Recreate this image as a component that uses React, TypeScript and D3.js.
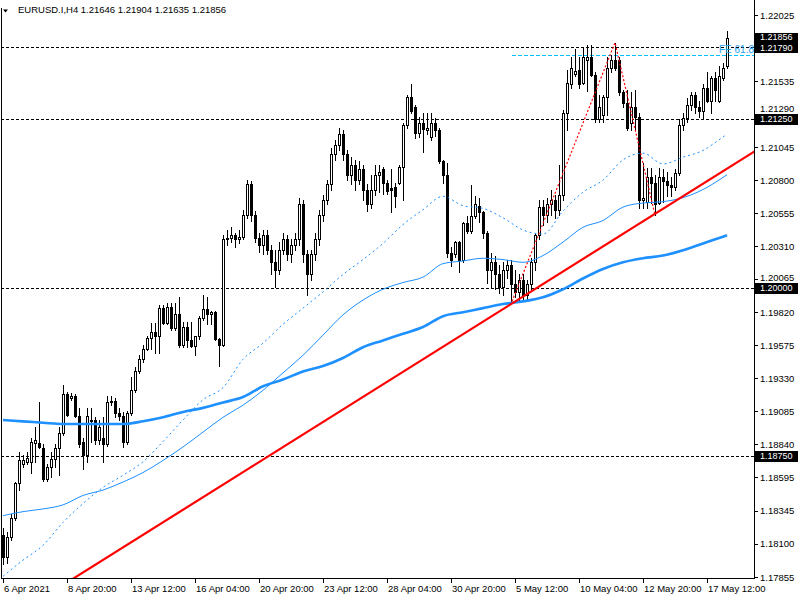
import React from 'react';
import * as d3 from 'd3';

// EURUSD H4 candles, oldest first (index 0 = 6 Apr 2021)
const opens = [
  1.1817, 1.1800, 1.1815, 1.1829, 1.1855, 1.1869, 1.1871, 1.1871, 1.1885, 1.1885,
  1.1881, 1.1858, 1.1867, 1.1873, 1.1881, 1.1892, 1.1921, 1.1918, 1.1920, 1.1905,
  1.1886, 1.1876, 1.1901, 1.1902, 1.1887, 1.1889, 1.1884, 1.1915, 1.1916, 1.1907,
  1.1905, 1.1886, 1.1907, 1.1924, 1.1938, 1.1947, 1.1955, 1.1963, 1.1967, 1.1964,
  1.1985, 1.1974, 1.1986, 1.1970, 1.1981, 1.1958, 1.1971, 1.1961, 1.1957, 1.1964,
  1.1978, 1.1984, 1.1981, 1.1982, 1.1962, 1.1958, 1.2036, 1.2037, 1.2039, 1.2036,
  1.2038, 1.2054, 1.2077, 1.2054, 1.2037, 1.2032, 1.2039, 1.2028, 1.2019, 1.2013,
  1.2028, 1.2036, 1.2025, 1.2032, 1.2036, 1.2062, 1.2025, 1.2010, 1.2025, 1.2036,
  1.2054, 1.2065, 1.2077, 1.2099, 1.2106, 1.2114, 1.2099, 1.2084, 1.2091, 1.2080,
  1.2088, 1.2073, 1.2062, 1.2073, 1.2084, 1.2088, 1.2078, 1.2074, 1.2075, 1.2078,
  1.2090, 1.2121, 1.2142, 1.2134, 1.2115, 1.2122, 1.2117, 1.2112, 1.2122, 1.2117,
  1.2094, 1.2084, 1.2026, 1.2025, 1.2034, 1.2021, 1.2048, 1.2042, 1.2053, 1.2061,
  1.2056, 1.2041, 1.2013, 1.2019, 1.2010, 1.2001, 1.2013, 1.2017, 1.2003, 1.1997,
  1.2006, 1.1995, 1.2003, 1.2019, 1.2039, 1.2060, 1.2054, 1.2062, 1.2065, 1.2058,
  1.2069, 1.2130, 1.2151, 1.2159, 1.2162, 1.2152, 1.2169, 1.2171, 1.2158, 1.2125,
  1.2128, 1.2142, 1.2163, 1.2169, 1.2169, 1.2145, 1.2137, 1.2122, 1.2134, 1.2127,
  1.2065, 1.2064, 1.2082, 1.2078, 1.2063, 1.2082, 1.2079, 1.2076, 1.2075, 1.2085,
  1.2121, 1.2126, 1.2136, 1.2143, 1.2134, 1.2131, 1.2148, 1.2139, 1.2156, 1.2139,
  1.2156, 1.21646,
];
const highs = [
  1.1822, 1.1819, 1.1832, 1.1856, 1.1878, 1.1876, 1.1878, 1.1889, 1.1897, 1.1915,
  1.1884, 1.1869, 1.1878, 1.1884, 1.1897, 1.1928, 1.1923, 1.1922, 1.1921, 1.1911,
  1.1889, 1.1911, 1.1911, 1.1904, 1.1902, 1.1904, 1.1920, 1.1920, 1.1918, 1.1911,
  1.1908, 1.1909, 1.1934, 1.1941, 1.1950, 1.1958, 1.1964, 1.1974, 1.1974, 1.1987,
  1.1987, 1.1989, 1.1989, 1.1989, 1.1993, 1.1975, 1.1975, 1.1975, 1.1964, 1.1979,
  1.1995, 1.1993, 1.1983, 1.1983, 1.1963, 1.2039, 1.2043, 1.2045, 1.2041, 1.2043,
  1.2058, 1.2080, 1.2079, 1.2057, 1.2041, 1.2043, 1.2043, 1.2032, 1.2028, 1.2034,
  1.2041, 1.2039, 1.2036, 1.2041, 1.2067, 1.2065, 1.2028, 1.2028, 1.2041, 1.2058,
  1.2069, 1.2080, 1.2104, 1.2110, 1.2119, 1.2117, 1.2102, 1.2097, 1.2095, 1.2094,
  1.2091, 1.2077, 1.2084, 1.2091, 1.2091, 1.2090, 1.2080, 1.2088, 1.2078, 1.2091,
  1.2122, 1.2143, 1.2151, 1.2136, 1.2127, 1.2130, 1.2130, 1.2130, 1.2126, 1.2119,
  1.2095, 1.2093, 1.2030, 1.2035, 1.2035, 1.2049, 1.2053, 1.2076, 1.2068, 1.2067,
  1.2057, 1.2042, 1.2026, 1.2024, 1.2017, 1.2019, 1.2021, 1.2021, 1.2013, 1.2010,
  1.2010, 1.2006, 1.2022, 1.2041, 1.2065, 1.2065, 1.2067, 1.2073, 1.2069, 1.2091,
  1.2132, 1.2162, 1.2171, 1.2177, 1.2171, 1.2179, 1.2180, 1.2180, 1.2160, 1.2143,
  1.2143, 1.2171, 1.2173, 1.2182, 1.2171, 1.2147, 1.2147, 1.2145, 1.2147, 1.2130,
  1.2093, 1.2089, 1.2089, 1.2084, 1.2089, 1.2088, 1.2086, 1.2082, 1.2088, 1.2125,
  1.2130, 1.2141, 1.2145, 1.2145, 1.2139, 1.2151, 1.2160, 1.2157, 1.2160, 1.2165,
  1.2167, 1.21904,
];
const lows = [
  1.1795, 1.1796, 1.1813, 1.1828, 1.1850, 1.1867, 1.1869, 1.1863, 1.1871, 1.1881,
  1.1857, 1.1857, 1.1860, 1.1867, 1.1861, 1.1891, 1.1905, 1.1917, 1.1904, 1.1882,
  1.1866, 1.1871, 1.1886, 1.1884, 1.1884, 1.1871, 1.1883, 1.1913, 1.1904, 1.1902,
  1.1882, 1.1884, 1.1906, 1.1923, 1.1937, 1.1945, 1.1954, 1.1955, 1.1952, 1.1952,
  1.1973, 1.1973, 1.1969, 1.1969, 1.1956, 1.1956, 1.1956, 1.1956, 1.1950, 1.1962,
  1.1976, 1.1973, 1.1973, 1.1961, 1.1942, 1.1957, 1.2032, 1.2034, 1.2030, 1.2033,
  1.2036, 1.2052, 1.2050, 1.2034, 1.2027, 1.2025, 1.2025, 1.2010, 1.2001, 1.2010,
  1.2025, 1.2021, 1.2019, 1.2028, 1.2032, 1.2019, 1.1995, 1.2006, 1.2021, 1.2032,
  1.2050, 1.2062, 1.2073, 1.2095, 1.2102, 1.2095, 1.2080, 1.2077, 1.2073, 1.2077,
  1.2065, 1.2057, 1.2059, 1.2069, 1.2071, 1.2070, 1.2070, 1.2056, 1.2060, 1.2077,
  1.2065, 1.2119, 1.2130, 1.2111, 1.2112, 1.2101, 1.2114, 1.2110, 1.2113, 1.2093,
  1.2078, 1.2023, 1.2016, 1.2023, 1.2012, 1.2019, 1.2041, 1.2041, 1.2052, 1.2049,
  1.2037, 1.2004, 1.2000, 1.1999, 1.1996, 1.1995, 1.2007, 1.1990, 1.1993, 1.1990,
  1.1991, 1.1990, 1.1999, 1.2013, 1.2036, 1.2047, 1.2049, 1.2054, 1.2052, 1.2054,
  1.2065, 1.2117, 1.2148, 1.2157, 1.2148, 1.2151, 1.2146, 1.2157, 1.2123, 1.2123,
  1.2123, 1.2128, 1.2160, 1.2162, 1.2143, 1.2134, 1.2117, 1.2117, 1.2117, 1.2059,
  1.2059, 1.2059, 1.2063, 1.2054, 1.2062, 1.2064, 1.2068, 1.2068, 1.2073, 1.2084,
  1.2117, 1.2123, 1.2132, 1.2130, 1.2127, 1.2126, 1.2138, 1.2130, 1.2139, 1.2138,
  1.2154, 1.21635,
];
const closes = [
  1.1800, 1.1815, 1.1829, 1.1855, 1.1872, 1.1872, 1.1874, 1.1886, 1.1887, 1.1882,
  1.1858, 1.1867, 1.1873, 1.1881, 1.1892, 1.1921, 1.1906, 1.1920, 1.1905, 1.1884,
  1.1876, 1.1905, 1.1902, 1.1887, 1.1897, 1.1884, 1.1915, 1.1916, 1.1907, 1.1905,
  1.1886, 1.1907, 1.1924, 1.1938, 1.1947, 1.1955, 1.1963, 1.1967, 1.1964, 1.1985,
  1.1974, 1.1986, 1.1970, 1.1981, 1.1958, 1.1971, 1.1961, 1.1957, 1.1964, 1.1978,
  1.1984, 1.1981, 1.1982, 1.1962, 1.1958, 1.2036, 1.2037, 1.2039, 1.2036, 1.2038,
  1.2054, 1.2077, 1.2054, 1.2037, 1.2032, 1.2039, 1.2028, 1.2019, 1.2013, 1.2028,
  1.2036, 1.2025, 1.2032, 1.2036, 1.2062, 1.2025, 1.2010, 1.2025, 1.2036, 1.2054,
  1.2065, 1.2077, 1.2099, 1.2106, 1.2114, 1.2099, 1.2084, 1.2091, 1.2080, 1.2088,
  1.2073, 1.2062, 1.2073, 1.2084, 1.2086, 1.2078, 1.2072, 1.2073, 1.2068, 1.2090,
  1.2121, 1.2142, 1.2131, 1.2115, 1.2122, 1.2118, 1.2119, 1.2122, 1.2117, 1.2094,
  1.2084, 1.2026, 1.2021, 1.2034, 1.2021, 1.2048, 1.2042, 1.2053, 1.2062, 1.2056,
  1.2041, 1.2013, 1.2019, 1.2010, 1.2001, 1.2013, 1.2017, 1.2003, 1.1997, 1.2006,
  1.1995, 1.2003, 1.2019, 1.2039, 1.2060, 1.2054, 1.2062, 1.2065, 1.2058, 1.2069,
  1.2130, 1.2152, 1.2163, 1.2161, 1.2151, 1.2171, 1.2171, 1.2158, 1.2125, 1.2134,
  1.2142, 1.2163, 1.2169, 1.2163, 1.2145, 1.2137, 1.2119, 1.2134, 1.2127, 1.2065,
  1.2067, 1.2082, 1.2078, 1.2062, 1.2082, 1.2079, 1.2076, 1.2075, 1.2085, 1.2121,
  1.2126, 1.2136, 1.2143, 1.2134, 1.2131, 1.2148, 1.2139, 1.2156, 1.2147, 1.2157,
  1.2163, 1.21856,
];

// moving averages, read at these candle indices
const maIndex = [
  0, 5, 10, 15, 20, 25, 30, 35, 40, 45, 50, 55, 60, 65, 70, 75, 80, 85, 90,
  95, 100, 105, 110, 115, 120, 125, 130, 135, 140, 145, 150, 155, 160, 165, 170, 175, 180, 181,
];
const maSlow = [
  1.1902, 1.1901, 1.1900, 1.1899, 1.1899, 1.1899, 1.1899, 1.1901, 1.1904, 1.1908,
  1.1911, 1.1915, 1.1919, 1.1927, 1.1932, 1.1938, 1.1942, 1.1948, 1.1956, 1.1961,
  1.1966, 1.1971, 1.1979, 1.1982, 1.1985, 1.1988, 1.1990, 1.1993, 1.1999, 1.2007,
  1.2014, 1.2019, 1.2022, 1.2024, 1.2028, 1.2033, 1.2038, 1.2039,
];
const maMid = [
  1.1831, 1.1834, 1.1836, 1.1839, 1.1846, 1.1850, 1.1856, 1.1863, 1.1872, 1.1882,
  1.1893, 1.1904, 1.1913, 1.1924, 1.1937, 1.1950, 1.1965, 1.1980, 1.1991, 1.1999,
  1.2004, 1.2008, 1.2018, 1.2020, 1.2022, 1.2021, 1.2019, 1.2024, 1.2034, 1.2045,
  1.2050, 1.2060, 1.2063, 1.2064, 1.2067, 1.2073, 1.2082, 1.2084,
];
const maFast = [
  1.1786, 1.1798, 1.1809, 1.1826, 1.1840, 1.1852, 1.1861, 1.1871, 1.1886, 1.1902,
  1.1917, 1.1926, 1.1947, 1.1959, 1.1973, 1.1985, 1.1997, 1.2010, 1.2021, 1.2033,
  1.2047, 1.2058, 1.2068, 1.2061, 1.2059, 1.2052, 1.2043, 1.2040, 1.2057, 1.2071,
  1.2080, 1.2095, 1.2100, 1.2092, 1.2097, 1.2102, 1.2112, 1.2114,
];

const levels = [1.2179, 1.2125, 1.2, 1.1875];
const bid = 1.21856;
const trendPoints: [number, number][] = [[127, 1.1988], [163, 1.2055]];
const fePoints: [number, number][] = [[127.25, 1.199], [153, 1.2182], [163, 1.2054]];
const feRatio = 0.618;

const priceLabels = [
  '1.22025', '1.21535', '1.21290', '1.21045', '1.20800', '1.20555', '1.20310', '1.20065',
  '1.19820', '1.19575', '1.19330', '1.19085', '1.18840', '1.18595', '1.18345', '1.18100', '1.17855',
];
const timeLabels = [
  '6 Apr 2021', '8 Apr 20:00', '13 Apr 12:00', '16 Apr 04:00', '20 Apr 20:00', '23 Apr 12:00',
  '28 Apr 04:00', '30 Apr 20:00', '5 May 12:00', '10 May 04:00', '12 May 20:00', '17 May 12:00',
];
const timeLabelIndex = [0, 16, 32, 48, 64, 80, 96, 112, 128, 144, 160, 176];

const FONT = '"Liberation Sans", Arial, sans-serif';
const BLUE = '#1E90FF';

export default function App() {
  const W = 800, H = 600;
  const right = 754, bottom = 578;
  const x = d3.scaleLinear().domain([0, 181]).range([3, 727]);
  const y = d3.scaleLinear().domain([1.17855, 1.22025]).range([577, 15]);

  const maLine = (vals: number[]) =>
    d3.line<number>()
      .x((_, k) => x(maIndex[k]))
      .y((v) => y(v))
      .curve(d3.curveMonotoneX)(vals) || '';

  // trend line extended both ways
  const [[ti1, tp1], [ti2, tp2]] = trendPoints;
  const slope = (tp2 - tp1) / (ti2 - ti1);
  const tA = -5, tB = 195;
  const trend = { x1: x(tA), y1: y(tp1 + (tA - ti1) * slope), x2: x(tB), y2: y(tp1 + (tB - ti1) * slope) };

  const [A, B, C] = fePoints;
  const feLevel = C[1] + feRatio * (B[1] - A[1]);
  const feY = Math.round(y(feLevel)) + 0.5;
  const fePath = d3.line<[number, number]>().x((d) => x(d[0])).y((d) => y(d[1]))(fePoints) || '';

  // price boxes on the axis; push apart labels that would touch
  const boxes = [bid, ...levels]
    .map((lv) => ({ lv, py: Math.round(y(lv)), ty: Math.round(y(lv)) }))
    .sort((a, b) => a.py - b.py);
  for (let k = 1; k < boxes.length; k++) {
    const gap = boxes[k].ty - boxes[k - 1].ty;
    if (gap < 11) {
      const d = (11 - gap) / 2;
      boxes[k - 1].ty -= d;
      boxes[k].ty += d;
    }
  }
  const tickLabelY = (v: number) => {
    let py = y(v);
    for (const b of boxes) {
      if (Math.abs(py - b.ty) < 11) py = py < b.ty ? b.ty - 11 : b.ty + 11;
    }
    return py;
  };

  const candles = closes.map((c, i) => {
    const o = opens[i];
    const cx = Math.round(x(i));
    const top = Math.round(y(Math.max(o, c)));
    const bot = Math.round(y(Math.min(o, c)));
    const up = c >= o;
    return (
      <g key={i}>
        <line x1={cx + 0.5} x2={cx + 0.5} y1={Math.round(y(highs[i]))} y2={Math.round(y(lows[i])) + 1} stroke="#000" strokeWidth={1} />
        {bot - top < 1 ? (
          <line x1={cx - 1} x2={cx + 2} y1={top + 0.5} y2={top + 0.5} stroke="#000" strokeWidth={1} />
        ) : (
          <rect x={cx - 0.5} y={top + 0.5} width={2} height={bot - top} fill={up ? '#fff' : '#000'} stroke="#000" strokeWidth={1} />
        )}
      </g>
    );
  });

  return (
    <svg width={W} height={H} style={{ position: 'absolute', left: 0, top: 0, background: '#fff' }} fontFamily={FONT}>
      <defs>
        <clipPath id="plot">
          <rect x={1} y={0} width={right - 1} height={bottom} />
        </clipPath>
      </defs>
      <rect x={0} y={0} width={W} height={H} fill="#fff" />

      <g clipPath="url(#plot)">
        {levels.map((lv) => (
          <line key={lv} x1={1} x2={right} y1={Math.round(y(lv)) + 0.5} y2={Math.round(y(lv)) + 0.5} stroke="#000" strokeDasharray="3,2" strokeWidth={1} shapeRendering="crispEdges" />
        ))}
        <line x1={x(A[0])} x2={right} y1={feY} y2={feY} stroke="#00BFFF" strokeDasharray="4,2" strokeWidth={1} shapeRendering="crispEdges" />

        <g shapeRendering="crispEdges">{candles}</g>

        <path d={maLine(maSlow)} fill="none" stroke={BLUE} strokeWidth={2.6} />
        <path d={maLine(maMid)} fill="none" stroke={BLUE} strokeWidth={1} />
        <path d={maLine(maFast)} fill="none" stroke={BLUE} strokeWidth={1} strokeDasharray="2,3" />

        <line {...trend} stroke="#FF0000" strokeWidth={2.2} />
        <path d={fePath} fill="none" stroke="#FF0000" strokeWidth={1.2} strokeDasharray="2,2" />
      </g>
      <text x={right - 35} y={feY - 3} fontSize={10} fill="#1EA0F0">FE 61.8</text>

      {/* frame */}
      <line x1={1.5} x2={1.5} y1={8} y2={bottom} stroke="#000" />
      <line x1={1} x2={right + 1} y1={bottom + 0.5} y2={bottom + 0.5} stroke="#000" />
      <line x1={right + 0.5} x2={right + 0.5} y1={0} y2={bottom + 1} stroke="#000" />

      {/* price axis */}
      {priceLabels.map((s) => {
        const py = Math.round(y(+s));
        return (
          <g key={s}>
            <line x1={right} x2={right + 4} y1={py + 0.5} y2={py + 0.5} stroke="#000" />
            <text x={760} y={tickLabelY(+s) + 3.5} fontSize={9.5} fill="#000">{s}</text>
          </g>
        );
      })}
      {boxes.map((b) => (
        <g key={'b' + b.lv}>
          <rect x={755} y={b.py - 5} width={43} height={11} fill="#000" />
        </g>
      ))}
      {boxes.map((b) => (
        <text key={'t' + b.lv} x={760} y={b.ty + 3} fontSize={9} fill="#fff">{b.lv.toFixed(5)}</text>
      ))}

      {/* time axis */}
      {timeLabels.map((s, k) => {
        const tx = Math.round(x(timeLabelIndex[k]));
        return (
          <g key={s}>
            <line x1={tx + 0.5} x2={tx + 0.5} y1={bottom} y2={bottom + 5} stroke="#000" />
            <text x={tx + 1} y={592} fontSize={9.5} fill="#000">{s}</text>
          </g>
        );
      })}

      {/* header */}
      <path d="M3,9.5 L8,9.5 L5.5,12.5 Z" fill="#000" />
      <text x={18} y={13} fontSize={9.5} fill="#000">EURUSD.I,H4  1.21646 1.21904 1.21635 1.21856</text>
    </svg>
  );
}
